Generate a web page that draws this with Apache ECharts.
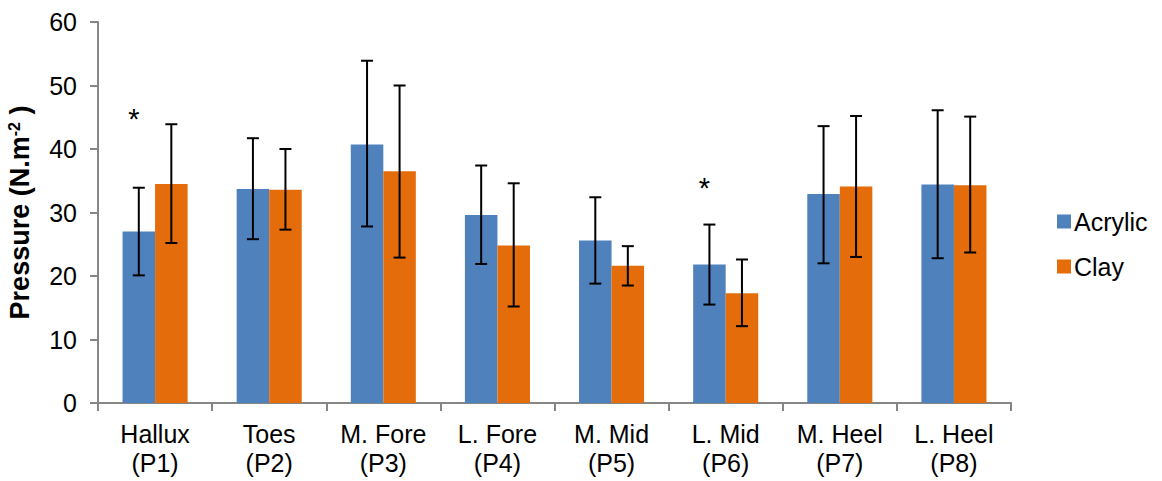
<!DOCTYPE html>
<html>
<head>
<meta charset="utf-8">
<script src="https://cdn.jsdelivr.net/npm/echarts@6/dist/echarts.min.js"></script>
<style>
  html, body { margin: 0; padding: 0; background: #fff; }
  #chart { width: 1162px; height: 481px; }
</style>
</head>
<body>
<div id="chart"></div>
<script>
var categories = ['Hallux\n(P1)', 'Toes\n(P2)', 'M. Fore\n(P3)', 'L. Fore\n(P4)', 'M. Mid\n(P5)', 'L. Mid\n(P6)', 'M. Heel\n(P7)', 'L. Heel\n(P8)'];
var acrylic = [27.0, 33.7, 40.7, 29.6, 25.6, 21.8, 32.9, 34.4];
var acrylicHigh = [33.9, 41.7, 53.9, 37.4, 32.4, 28.1, 43.6, 46.1];
var acrylicLow = [20.1, 25.8, 27.8, 21.9, 18.8, 15.5, 22.0, 22.8];
var clay = [34.5, 33.6, 36.5, 24.8, 21.6, 17.3, 34.1, 34.3];
var clayHigh = [43.9, 40.0, 50.0, 34.6, 24.7, 22.6, 45.2, 45.1];
var clayLow = [25.2, 27.3, 22.9, 15.2, 18.5, 12.1, 23.0, 23.7];
// significance markers: [category index, value]
var stars = [[0, 45.2], [5, 34.3]];

(function() {
  var blue = '#4F81BD';
  var orange = '#E46C0A';
  var axisGray = '#868686';
  var gapRatio = 0.43;
  var font = '"Liberation Sans", Arial, sans-serif';

  function errData(high, low) {
    return high.map(function(h, i) { return [i, low[i], h]; });
  }

  function errRender(side) {
    return function(params, api) {
      var band = api.size([1, 0])[0];
      var bw = band * (1 - gapRatio) / 2;
      var top = api.coord([api.value(0), api.value(2)]);
      var bot = api.coord([api.value(0), api.value(1)]);
      var x = top[0] + side * bw / 2;
      var cap = 6;
      var st = { stroke: '#000', lineWidth: 2 };
      return {
        type: 'group',
        children: [
          { type: 'line', shape: { x1: x, y1: top[1], x2: x, y2: bot[1] }, style: st },
          { type: 'line', shape: { x1: x - cap, y1: top[1], x2: x + cap, y2: top[1] }, style: st },
          { type: 'line', shape: { x1: x - cap, y1: bot[1], x2: x + cap, y2: bot[1] }, style: st }
        ]
      };
    };
  }

  var chart = echarts.init(document.getElementById('chart'), null, { renderer: 'svg' });
  chart.setOption({
    animation: false,
    backgroundColor: '#fff',
    textStyle: { fontFamily: font },
    grid: { left: 98, right: 151, top: 22, bottom: 78, containLabel: false, outerBoundsMode: 'none' },
    legend: {
      orient: 'vertical',
      left: 1052,
      top: 204,
      itemWidth: 14,
      itemHeight: 14,
      itemGap: 20,
      icon: 'rect',
      textStyle: { fontSize: 25, color: '#000', fontFamily: font, padding: [0, 0, 0, -2] },
      data: ['Acrylic', 'Clay']
    },
    xAxis: {
      type: 'category',
      data: categories,
      axisLine: { lineStyle: { color: axisGray, width: 2 } },
      axisTick: { show: true, length: 8, lineStyle: { color: axisGray, width: 2 } },
      axisLabel: { fontSize: 25, color: '#000', lineHeight: 29, margin: 16, fontFamily: font }
    },
    yAxis: {
      type: 'value',
      min: 0,
      max: 60,
      interval: 10,
      name: 'Pressure (N.m{sup|-2} )',
      nameLocation: 'middle',
      nameGap: 64,
      nameRotate: 90,
      nameTextStyle: {
        fontSize: 27, fontWeight: 'bold', color: '#000', fontFamily: font,
        rich: { sup: { fontSize: 16, fontWeight: 'bold', verticalAlign: 'top', padding: [0, 0, 12, 0] } }
      },
      axisLine: { show: true, lineStyle: { color: axisGray, width: 2 } },
      axisTick: { show: true, length: 8, lineStyle: { color: axisGray, width: 2 } },
      splitLine: { show: false },
      axisLabel: { fontSize: 25, color: '#000', margin: 21, fontFamily: font }
    },
    series: [
      {
        name: 'Acrylic', type: 'bar', data: acrylic,
        barGap: 0, barCategoryGap: (gapRatio * 100) + '%',
        itemStyle: { color: blue }
      },
      {
        name: 'Clay', type: 'bar', data: clay,
        barGap: 0, barCategoryGap: (gapRatio * 100) + '%',
        itemStyle: { color: orange }
      },
      {
        type: 'custom', data: errData(acrylicHigh, acrylicLow),
        renderItem: errRender(-1), z: 5, silent: true
      },
      {
        type: 'custom', data: errData(clayHigh, clayLow),
        renderItem: errRender(1), z: 5, silent: true
      },
      {
        type: 'custom', data: stars, z: 5, silent: true,
        renderItem: function(params, api) {
          var band = api.size([1, 0])[0];
          var bw = band * (1 - gapRatio) / 2;
          var p = api.coord([api.value(0), api.value(1)]);
          return {
            type: 'text',
            style: {
              x: p[0] - bw / 2 - 5, y: p[1] + 3,
              text: '*', fontSize: 29, fill: '#000', fontFamily: font,
              align: 'center', verticalAlign: 'middle'
            }
          };
        }
      }
    ]
  });

  window.addEventListener('resize', function() { chart.resize(); });
})();
</script>
</body>
</html>
